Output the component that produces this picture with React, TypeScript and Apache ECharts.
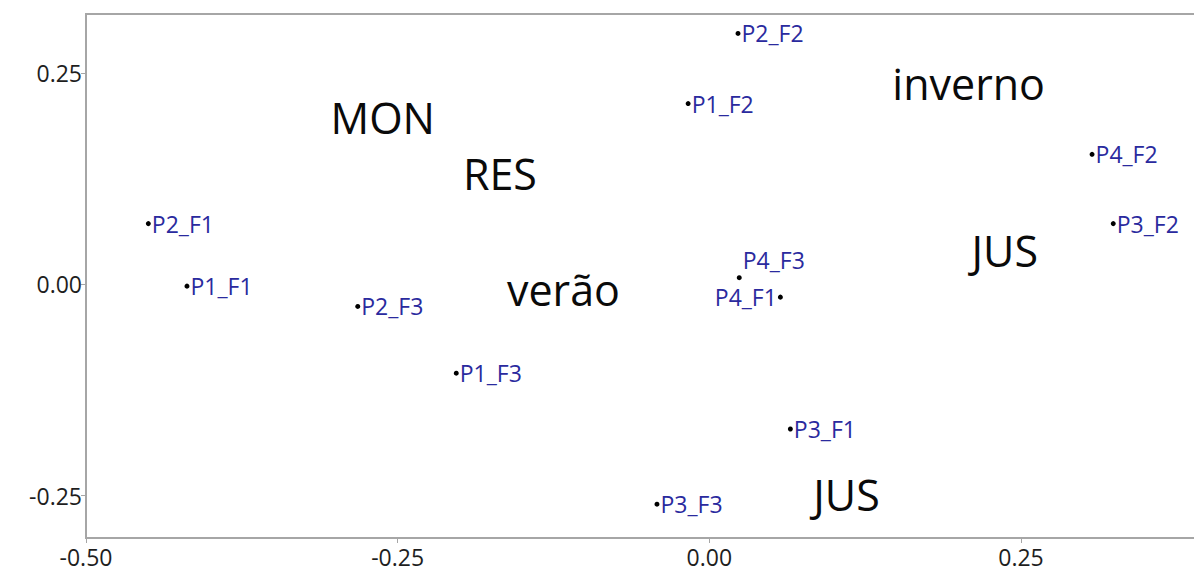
import React, { useEffect, useRef } from "react";
import * as echarts from "echarts";

// Observation points (dimension 1, dimension 2)
const pointNames = ["P2_F2", "P1_F2", "P4_F2", "P3_F2", "P2_F1", "P1_F1", "P2_F3", "P1_F3", "P4_F3", "P4_F1", "P3_F1", "P3_F3"];
const pointX = [0.023, -0.017, 0.307, 0.324, -0.45, -0.419, -0.282, -0.203, 0.024, 0.057, 0.065, -0.042];
const pointY = [0.297, 0.214, 0.154, 0.072, 0.072, -0.002, -0.026, -0.105, 0.008, -0.015, -0.171, -0.26];

// Category centroids
const catNames = ["MON", "RES", "verão", "inverno", "JUS", "JUS"];
const catX = [-0.262, -0.168, -0.117, 0.208, 0.237, 0.11];
const catY = [0.197, 0.131, -0.006, 0.238, 0.04, -0.249];

const xTicks = [-0.5, -0.25, 0, 0.25];
const yTicks = [-0.25, 0, 0.25];

const FONT = "Open Sans";
const AXIS_GREY = "#a6a6a6";
const LABEL_BLUE = "#2a2a9e";

export default function App() {
  const ref = useRef<HTMLDivElement>(null);

  useEffect(() => {
    if (!ref.current) return;
    const chart = echarts.init(ref.current, null, { renderer: "svg" });

    const pointData = pointNames.map((n, i) => {
      const item: any = { name: n, value: [pointX[i], pointY[i]] };
      if (n === "P4_F1") item.label = { position: "left", distance: 1 };
      if (n === "P4_F3") item.label = { position: "right", distance: 1, offset: [0, -18] };
      return item;
    });
    const catData = catNames.map((n, i) => ({ name: n, value: [catX[i], catY[i]] }));

    chart.setOption({
      animation: false,
      backgroundColor: "#ffffff",
      grid: {
        left: 86,
        top: 14,
        bottom: 39,
        right: 2,
        show: true,
        borderColor: AXIS_GREY,
        borderWidth: 2,
      },
      xAxis: {
        type: "value",
        min: -0.5,
        max: 0.4,
        splitLine: { show: false },
        axisLine: { show: true, onZero: false, lineStyle: { color: AXIS_GREY, width: 2 } },
        axisTick: { show: true, customValues: xTicks, length: 5, lineStyle: { color: AXIS_GREY } },
        axisLabel: {
          customValues: xTicks,
          formatter: (v: number) => v.toFixed(2),
          color: "#1e1e1e",
          fontFamily: FONT,
          fontSize: 23,
          margin: 7,
        },
      },
      yAxis: {
        type: "value",
        min: -0.3,
        max: 0.32,
        splitLine: { show: false },
        axisLine: { show: true, onZero: false, lineStyle: { color: AXIS_GREY, width: 2 } },
        axisTick: { show: true, customValues: yTicks, length: 5, lineStyle: { color: AXIS_GREY } },
        axisLabel: {
          customValues: yTicks,
          formatter: (v: number) => v.toFixed(2),
          color: "#1e1e1e",
          fontFamily: FONT,
          fontSize: 23,
          margin: 4,
        },
      },
      series: [
        {
          type: "scatter",
          data: pointData,
          symbol: "circle",
          symbolSize: 5,
          itemStyle: { color: "#000", opacity: 1 },
          label: {
            show: true,
            position: "right",
            distance: 1,
            formatter: "{b}",
            color: LABEL_BLUE,
            opacity: 1,
            fontFamily: FONT,
            fontSize: 23,
          },
        },
        {
          type: "scatter",
          data: catData,
          symbolSize: 0,
          itemStyle: { opacity: 1 },
          label: {
            show: true,
            position: "inside",
            formatter: "{b}",
            color: "#0a0a0a",
            opacity: 1,
            fontFamily: FONT,
            fontSize: 43,
          },
        },
      ],
    });

    return () => chart.dispose();
  }, []);

  return (
    <div
      ref={ref}
      style={{ position: "fixed", left: 0, top: 0, width: 1210, height: 577, background: "#fff" }}
    />
  );
}
